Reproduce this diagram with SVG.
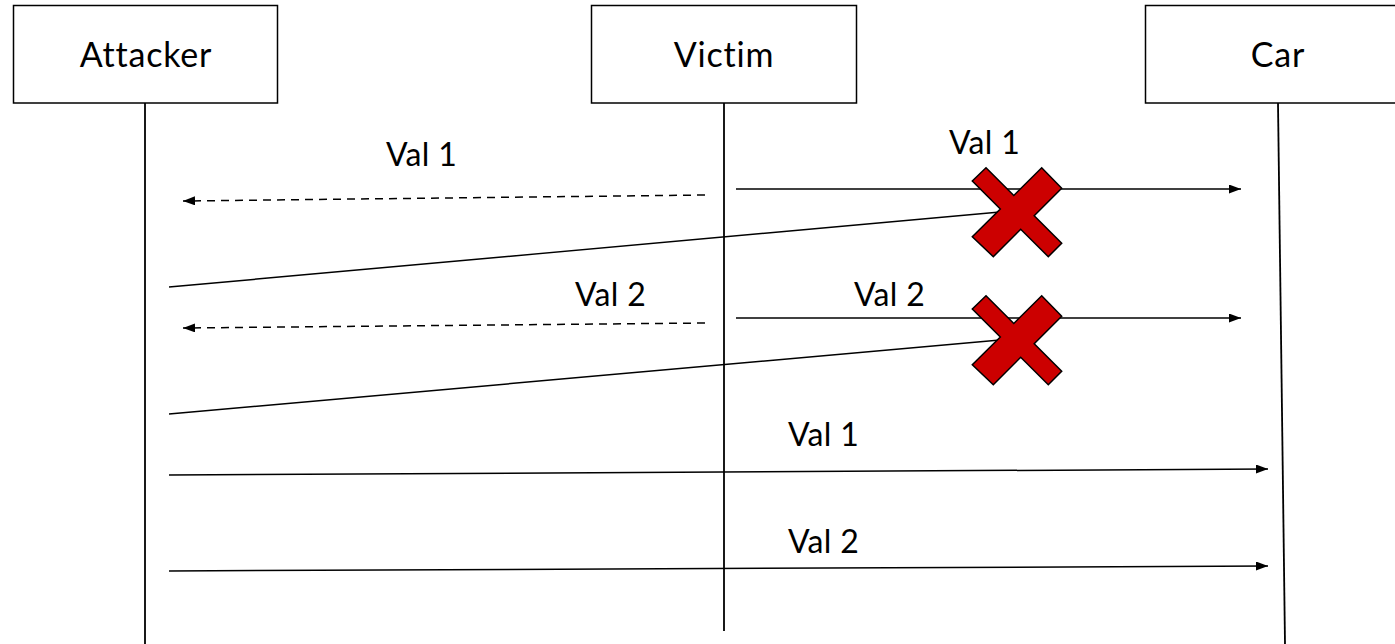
<svg xmlns="http://www.w3.org/2000/svg" width="1395" height="644" viewBox="0 0 1395 644">
  <style>
    .box { fill: #ffffff; stroke: #000000; stroke-width: 1.5; }
    .label { font-family: Lato, "Liberation Sans", sans-serif; font-size: 32px; fill: #000000; font-variant-ligatures: none; letter-spacing: 0.3px; }
    .title { font-size: 34px; letter-spacing: 0.8px; }
    .life { stroke: #000000; stroke-width: 1.8; fill: none; }
    .msg { stroke: #000000; stroke-width: 1.5; fill: none; }
    .dash { stroke-dasharray: 8 6; }
    .cross { fill: #cc0000; stroke: #000000; stroke-width: 1.5; stroke-linejoin: miter; }
  </style>
  <defs>
    <marker id="arrow" markerUnits="userSpaceOnUse" markerWidth="13" markerHeight="10" refX="12" refY="4.5" orient="auto">
      <path d="M0,0 L12,4.5 L0,9 z" fill="#000000"/>
    </marker>
    <polygon id="xmark" class="cross" points="986,167.7 1013.8,195.5 1041.7,167.7 1061.7,188.3 1034.2,215.8 1061.7,243.3 1048.3,256.7 1020.7,229.3 993.3,256.7 972.3,236.7 1000.3,209 972.3,181"/>
  </defs>

  <!-- participants -->
  <g id="attacker">
    <rect class="box" x="13.5" y="5.5" width="264" height="97.5"/>
    <text class="label title" x="146" y="67" text-anchor="middle">Attacker</text>
  </g>
  <g id="victim">
    <rect class="box" x="591.5" y="5.5" width="265" height="97.5"/>
    <text class="label title" x="724" y="67" text-anchor="middle">Victim</text>
  </g>
  <g id="car">
    <rect class="box" x="1145.5" y="5.5" width="260" height="97.5"/>
    <text class="label title" x="1278" y="67" text-anchor="middle">Car</text>
  </g>

  <!-- lifelines and messages -->
  <g id="connectors">
    <line class="life" x1="145" y1="103" x2="145" y2="644"/>
    <line class="life" x1="724" y1="103" x2="724" y2="631"/>
    <line class="life" x1="1278" y1="103" x2="1285" y2="644"/>

    <line class="msg dash" x1="705" y1="195" x2="183" y2="201" marker-end="url(#arrow)"/>
    <line class="msg" x1="736" y1="189" x2="1241" y2="189" marker-end="url(#arrow)"/>
    <line class="msg" x1="169" y1="287" x2="1000" y2="212"/>

    <line class="msg dash" x1="705" y1="323" x2="183" y2="328" marker-end="url(#arrow)"/>
    <line class="msg" x1="736" y1="318" x2="1241" y2="318" marker-end="url(#arrow)"/>
    <line class="msg" x1="169" y1="414" x2="1000" y2="340"/>

    <line class="msg" x1="169" y1="475" x2="1268" y2="469" marker-end="url(#arrow)"/>
    <line class="msg" x1="169" y1="571" x2="1268" y2="566" marker-end="url(#arrow)"/>
  </g>

  <!-- blocked messages -->
  <g id="block1"><use href="#xmark"/></g>
  <g id="block2"><use href="#xmark" transform="translate(0,128)"/></g>

  <!-- message labels -->
  <g id="labels">
    <text class="label" x="386" y="166">Val 1</text>
    <text class="label" x="949" y="154">Val 1</text>
    <text class="label" x="575" y="306">Val 2</text>
    <text class="label" x="854" y="306">Val 2</text>
    <text class="label" x="788" y="446">Val 1</text>
    <text class="label" x="788" y="553">Val 2</text>
  </g>
</svg>
